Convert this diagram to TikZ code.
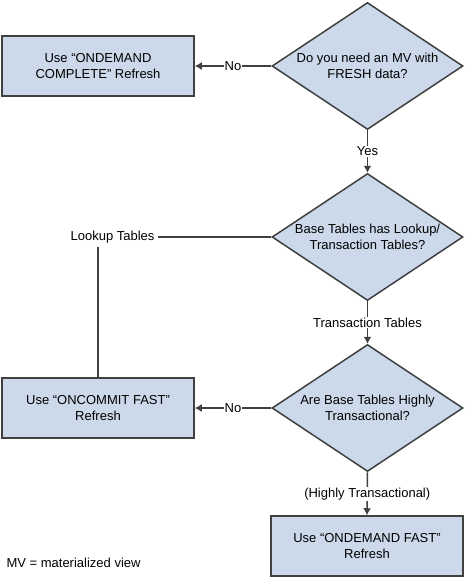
\documentclass[tikz,border=0pt]{standalone}
\usepackage{fontspec}
\setmainfont{Liberation Sans}
\usetikzlibrary{positioning,shapes.geometric,arrows.meta}
\definecolor{boxfill}{RGB}{204,217,234}
\definecolor{edgegray}{RGB}{64,64,64}

\begin{document}
\begin{tikzpicture}[
        font=\fontsize{13pt}{15.5pt}\selectfont,
        decision/.style={diamond, draw=edgegray, fill=boxfill, line width=1.5pt,
            aspect=1.5, inner sep=0pt, minimum width=191pt, minimum height=127pt, align=center},
        action/.style={rectangle, draw=edgegray, fill=boxfill, line width=1.5pt,
            minimum width=192pt, minimum height=60pt, align=center},
        link/.style={draw=edgegray, line width=1.5pt},
        flow/.style={link, -{Latex[length=7pt,width=8pt]}},
        tag/.style={fill=white, inner sep=1pt}
    ]
                        \useasboundingbox (0pt,0pt) rectangle (465pt,-578pt);
                        \node[decision] (fresh) at (367.5pt,-66pt) {Do you need an MV with\\FRESH data?};
                        \node[action] (complete) at (98pt,-66pt) {Use “ONDEMAND\\COMPLETE” Refresh};
                        \node[decision] (basetype) at (367.5pt,-237pt) {Base Tables has Lookup/\\Transaction Tables?};
                        \node[left] (lookup) at (158pt,-237pt) {Lookup Tables};
                        \node[decision] (busy) at (367.5pt,-408pt) {Are Base Tables Highly\\Transactional?};
                        \node[action] (oncommit) at (98pt,-408pt) {Use “ONCOMMIT FAST”\\Refresh};
                        \node[action] (ondemand) at (367pt,-546pt) {Use “ONDEMAND FAST”\\Refresh};
                        \node[right] (legend) at (3pt,-563pt) {MV = materialized view};

                        \draw[flow] (fresh.west) -- node[tag] {No} (complete.east);
                        \draw[flow] (fresh.south) -- node[tag] {Yes} (basetype.north);
                        \draw[link] (basetype.west) -- (lookup.east);
                        \draw[link] (lookup.south -| oncommit.north) -- (oncommit.north);
                        \draw[flow] (basetype.south) -- node[tag] {Transaction Tables} (busy.north);
                        \draw[flow] (busy.west) -- node[tag] {No} (oncommit.east);
                        \draw[flow] (busy.south) -- node[tag] {(Highly Transactional)} (ondemand.north);
                    \end{tikzpicture}
\end{document}
